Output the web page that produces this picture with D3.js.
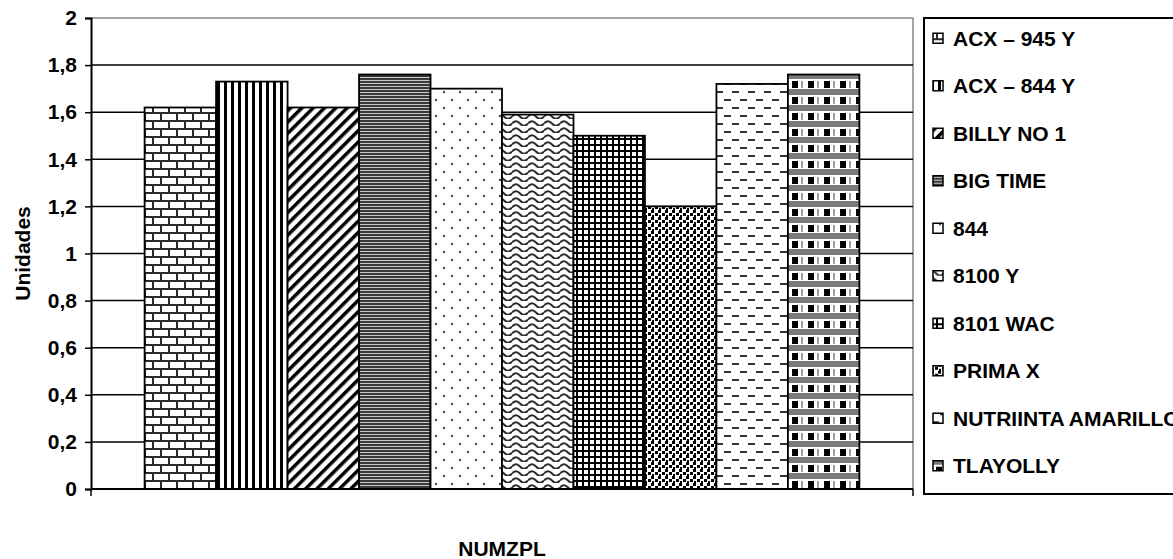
<!DOCTYPE html>
<html>
<head>
<meta charset="utf-8">
<script src="https://cdn.jsdelivr.net/npm/d3@7/dist/d3.min.js"></script>
<style>
  html, body { margin: 0; padding: 0; background: #fff; }
  svg text { font-family: "Liberation Sans", Arial, sans-serif; font-weight: bold; fill: #000; }
</style>
</head>
<body>
<svg id="chart" width="1173" height="559"></svg>
<script>
// Single category on the x axis, one bar per variety
const categories = ["NUMZPL"];
const varieties = ["ACX – 945 Y", "ACX – 844 Y", "BILLY NO 1", "BIG TIME", "844",
                   "8100 Y", "8101 WAC", "PRIMA X", "NUTRIINTA AMARILLO", "TLAYOLLY"];
const values = [1.62, 1.73, 1.62, 1.76, 1.70, 1.59, 1.50, 1.20, 1.72, 1.76];
const yTicks = [0, 0.2, 0.4, 0.6, 0.8, 1, 1.2, 1.4, 1.6, 1.8, 2];
const yTitle = "Unidades";

const W = 1173, H = 559;
const plot = { left: 91, top: 18, right: 913, bottom: 489 };
const FS = 21;

const svg = d3.select("#chart");
svg.append("rect").attr("width", W).attr("height", H).attr("fill", "#fff");

// ---- fill patterns (black & white hatches) ----
const defs = svg.append("defs");
function pattern(id, w, h, draw, transform) {
  const p = defs.append("pattern").attr("id", id)
    .attr("patternUnits", "userSpaceOnUse").attr("width", w).attr("height", h);
  if (transform) p.attr("patternTransform", transform);
  p.append("rect").attr("width", w).attr("height", h).attr("fill", "#fff");
  draw(p);
}
const R = (p, x, y, w, h, c) => p.append("rect").attr("x", x).attr("y", y)
  .attr("width", w).attr("height", h).attr("fill", c);

// brick
pattern("p0", 16, 16, p => {
  R(p, 0, 0, 16, 2, "#2a2a2a"); R(p, 0, 8, 16, 2, "#2a2a2a");
  R(p, 0, 0, 2, 8, "#2a2a2a"); R(p, 8, 8, 2, 8, "#2a2a2a");
});
// wide vertical stripes
pattern("p1", 7, 10, p => { R(p, 0, 0, 3, 10, "#000"); });
// wide upward diagonal
pattern("p2", 8, 8, p => { R(p, 0, 0, 3.5, 8, "#000"); }, "rotate(45)");
// narrow horizontal
pattern("p3", 3, 3, p => { R(p, 0, 0, 3, 3, "#c8c8c8"); R(p, 0, 0, 3, 2, "#3a3a3a"); });
// sparse dots
pattern("p4", 16, 16, p => {
  p.append("circle").attr("cx", 4).attr("cy", 4).attr("r", 1.2).attr("fill", "#444");
  p.append("circle").attr("cx", 12).attr("cy", 12).attr("r", 1.2).attr("fill", "#444");
});
// wave
pattern("p5", 16, 7, p => {
  p.append("path").attr("d", "M0,4.5 Q4,0 8,4.5 T16,4.5")
    .attr("fill", "none").attr("stroke", "#2e2e2e").attr("stroke-width", 2);
});
// small grid
pattern("p6", 6, 6, p => { R(p, 0, 0, 6, 2, "#000"); R(p, 0, 0, 2, 6, "#000"); });
// large confetti
pattern("p7", 7, 7, p => { R(p, 0, 0, 3, 3, "#000"); R(p, 4, 3, 3, 3, "#000"); R(p, 1, 5, 2, 2, "#000"); });
// dashed horizontal
pattern("p8", 16, 16, p => {
  R(p, 4, 3, 7, 2, "#333"); R(p, 12, 11, 7, 2, "#333"); R(p, -4, 11, 7, 2, "#333");
});
// plaid
pattern("p9", 16, 16, p => {
  R(p, 0, 9, 16, 6, "#7a7a7a");
  R(p, 8, 1, 6, 7, "#000");
  R(p, 1, 1, 2, 7, "#a0a0a0");
});

// ---- scales ----
const x0 = d3.scaleBand().domain(categories).range([plot.left, plot.right])
  .paddingInner(0).paddingOuter(0.075);
const x1 = d3.scaleBand().domain(varieties).range([0, x0.bandwidth()]).padding(0);
const y = d3.scaleLinear().domain([0, 2]).range([plot.bottom, plot.top]);
const fmt = d3.formatLocale({ decimal: ",", thousands: ".", grouping: [3], currency: ["", ""] }).format(".1~f");

// plot-area frame (top and right edges)
svg.append("path")
  .attr("d", `M${plot.left},${plot.top}H${plot.right}V${plot.bottom}`)
  .attr("fill", "none").attr("stroke", "#888").attr("stroke-width", 1.5);

// gridlines
svg.append("g").selectAll("line").data(yTicks.filter(t => t > 0 && t < 2)).join("line")
  .attr("x1", plot.left).attr("x2", plot.right)
  .attr("y1", d => y(d)).attr("y2", d => y(d))
  .attr("stroke", "#000").attr("stroke-width", 1.5);

// bars
const barData = varieties.map((v, i) => ({ cat: categories[0], name: v, value: values[i], i }));
svg.append("g").selectAll("rect").data(barData).join("rect")
  .attr("x", d => x0(d.cat) + x1(d.name))
  .attr("y", d => y(d.value))
  .attr("width", x1.bandwidth())
  .attr("height", d => y(0) - y(d.value))
  .attr("fill", d => `url(#p${d.i})`)
  .attr("stroke", "#000").attr("stroke-width", 1.8);

// y axis
const yAxis = svg.append("g").attr("transform", `translate(${plot.left},0)`)
  .call(d3.axisLeft(y).tickValues(yTicks).tickSize(6).tickPadding(8).tickFormat(fmt));
yAxis.select(".domain").attr("stroke", "#000").attr("stroke-width", 2);
yAxis.selectAll(".tick line").attr("stroke", "#000").attr("stroke-width", 1.5);
yAxis.selectAll(".tick text").attr("font-size", FS).attr("font-family", null)
  .attr("fill", "#000").attr("font-weight", "bold");

// x axis: baseline plus ticks at the category edges
const xAxis = svg.append("g");
xAxis.append("line").attr("x1", plot.left).attr("x2", plot.right)
  .attr("y1", y(0)).attr("y2", y(0)).attr("stroke", "#000").attr("stroke-width", 2);
xAxis.selectAll("line.edge").data(x0.range()).join("line").attr("class", "edge")
  .attr("x1", d => d).attr("x2", d => d)
  .attr("y1", y(0)).attr("y2", y(0) + 7).attr("stroke", "#000").attr("stroke-width", 1.5);

// axis titles
svg.append("text")
  .attr("transform", `translate(30,${(plot.top + plot.bottom) / 2}) rotate(-90)`)
  .attr("text-anchor", "middle").attr("font-size", FS).text(yTitle);
svg.append("text")
  .attr("x", (plot.left + plot.right) / 2).attr("y", 556)
  .attr("text-anchor", "middle").attr("font-size", FS).text(categories[0]);

// legend
const legend = svg.append("g");
legend.append("rect").attr("x", 924).attr("y", 18).attr("width", 300).attr("height", 476)
  .attr("fill", "#fff").attr("stroke", "#000").attr("stroke-width", 2);
const ly = d3.scaleBand().domain(varieties).range([14.5, 489.5]);
const items = legend.selectAll("g.item").data(barData).join("g").attr("class", "item")
  .attr("transform", d => `translate(0,${ly(d.name) + ly.bandwidth() / 2})`);
items.append("rect").attr("x", 933).attr("y", -5).attr("width", 10).attr("height", 10)
  .attr("fill", d => `url(#p${d.i})`).attr("stroke", "#000").attr("stroke-width", 1.5);
items.append("text").attr("x", 953).attr("dy", "0.36em").attr("font-size", FS).text(d => d.name);
</script>
</body>
</html>
